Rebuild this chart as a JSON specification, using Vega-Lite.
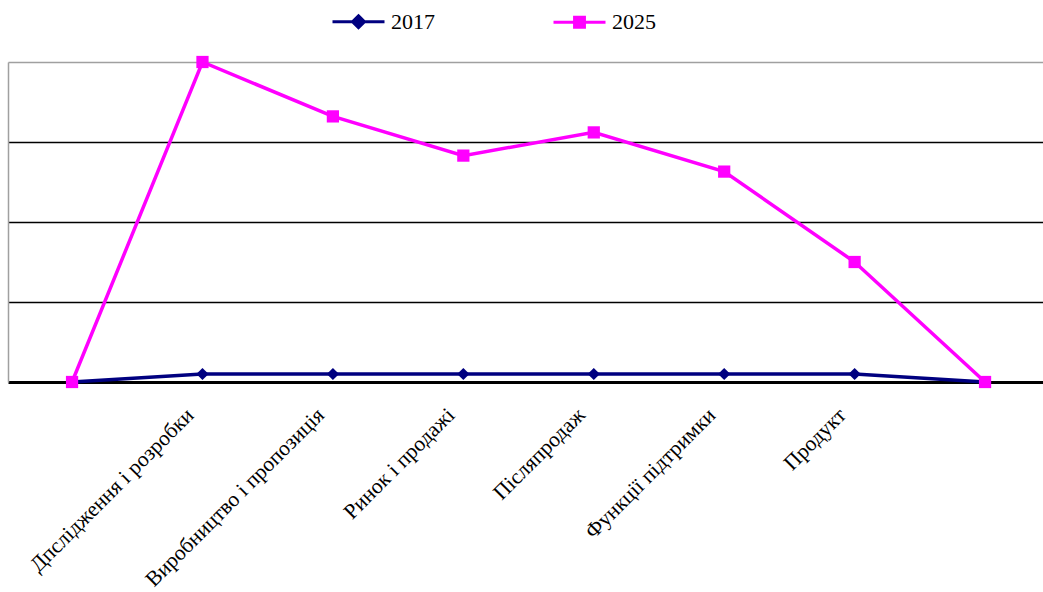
{
  "$schema": "https://vega.github.io/schema/vega-lite/v6.json",
  "autosize": "none",
  "width": 1035,
  "height": 320,
  "padding": {"left": 8, "top": 62, "right": 0, "bottom": 210},
  "background": "white",
  "config": {"view": {"stroke": null}, "font": "Liberation Serif"},
  "data": {
    "values": [
      {"cat": " ", "series": "2017", "value": 0},
      {"cat": "Дпслідження і розробки", "series": "2017", "value": 0.1},
      {"cat": "Виробництво і пропозиція", "series": "2017", "value": 0.1},
      {"cat": "Ринок і продажі", "series": "2017", "value": 0.1},
      {"cat": "Післяпродаж", "series": "2017", "value": 0.1},
      {"cat": "Функції підтримки", "series": "2017", "value": 0.1},
      {"cat": "Продукт", "series": "2017", "value": 0.1},
      {"cat": "  ", "series": "2017", "value": 0},
      {"cat": " ", "series": "2025", "value": 0},
      {"cat": "Дпслідження і розробки", "series": "2025", "value": 4.0},
      {"cat": "Виробництво і пропозиція", "series": "2025", "value": 3.32},
      {"cat": "Ринок і продажі", "series": "2025", "value": 2.83},
      {"cat": "Післяпродаж", "series": "2025", "value": 3.12},
      {"cat": "Функції підтримки", "series": "2025", "value": 2.63},
      {"cat": "Продукт", "series": "2025", "value": 1.5},
      {"cat": "  ", "series": "2025", "value": 0}
    ]
  },
  "encoding": {
    "x": {
      "field": "cat",
      "type": "nominal",
      "sort": null,
      "scale": {"type": "point", "padding": 0.4677, "align": 0.525},
      "axis": {
        "title": null,
        "domainColor": "#000000",
        "domainWidth": 3,
        "ticks": false,
        "grid": false,
        "labelAngle": -45,
        "labelFontSize": 21.5,
        "labelFont": "Liberation Serif",
        "labelColor": "#000000",
        "labelPadding": 22,
        "labelOffset": -20,
        "labelLimit": 400
      }
    },
    "y": {
      "field": "value",
      "type": "quantitative",
      "scale": {"domain": [0, 4], "nice": false, "zero": true},
      "axis": {
        "title": null,
        "labels": false,
        "ticks": false,
        "domainColor": "#a0a0a0",
        "domainWidth": 1.5,
        "values": [1, 2, 3, 4],
        "grid": true,
        "gridColor": {"condition": {"test": "datum.value == 4", "value": "#a0a0a0"}, "value": "#000000"},
        "gridWidth": 1.6
      }
    },
    "color": {
      "field": "series",
      "type": "nominal",
      "scale": {"domain": ["2017", "2025"], "range": ["#000080", "#FF00FF"]},
      "legend": {
        "orient": "none",
        "legendX": 323,
        "legendY": -68,
        "direction": "horizontal",
        "title": null,
        "columnPadding": 112,
        "symbolSize": 2704,
        "symbolStrokeWidth": 3,
        "labelFont": "Liberation Serif",
        "labelFontSize": 22,
        "labelColor": "#000000",
        "labelOffset": 5,
        "encoding": {
          "symbols": {
            "shape": {"value": {"expr": "datum.value == '2017' ? 'M-1,0H1M0,-0.23L0.23,0L0,0.23L-0.23,0Z' : 'M-1,0H1M-0.19,-0.19H0.19V0.19H-0.19Z'"}},
            "fill": {"value": {"expr": "datum.value == '2017' ? '#000080' : '#FF00FF'"}},
            "stroke": {"value": {"expr": "datum.value == '2017' ? '#000080' : '#FF00FF'"}},
            "strokeWidth": {"value": 3},
            "opacity": {"value": 1}
          }
        }
      }
    }
  },
  "layer": [
    {"mark": {"type": "line", "strokeWidth": 3.5}},
    {
      "mark": {"type": "point", "filled": true, "opacity": 1, "size": 150},
      "encoding": {
        "shape": {
          "condition": {"test": "datum.series == '2017'", "value": "diamond"},
          "value": "square"
        }
      }
    }
  ]
}
